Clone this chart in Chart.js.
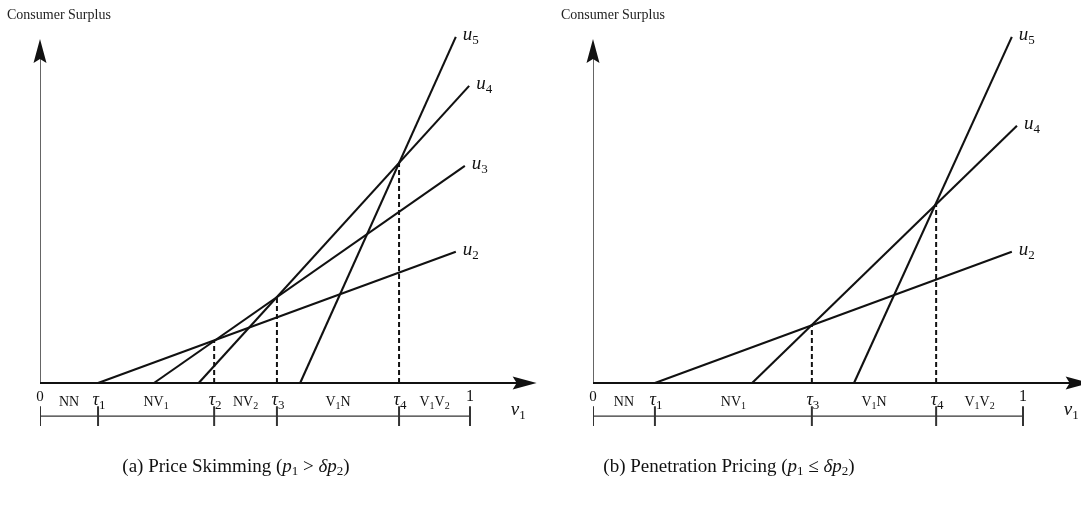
<!DOCTYPE html>
<html>
<head>
<meta charset="utf-8">
<script src="https://cdn.jsdelivr.net/npm/chart.js@4"></script>
<style>
  html, body { margin: 0; padding: 0; width: 1081px; height: 507px; overflow: hidden; background: #fff; }
  .panel { position: absolute; top: 0; }
  .ylabel { position: absolute; top: 6px; font: 14px "Liberation Serif", serif; line-height: 18px; color: #222; white-space: nowrap; }
  .caption { position: absolute; top: 454px; font: 19px "Liberation Serif", serif; line-height: 24px; color: #111; white-space: nowrap; transform: translateX(-50%); }
  .caption i { font-family: "Liberation Serif", serif; }
  .caption sub { font-size: 13px; font-style: normal; vertical-align: -3px; line-height: 0; }
</style>
</head>
<body>
<div class="panel" style="left:0px;width:540px;height:507px"><canvas id="chartA" width="540" height="507"></canvas></div>
<div class="panel" style="left:540px;width:560px;height:507px"><canvas id="chartB" width="560" height="507"></canvas></div>
<div class="ylabel" style="left:7px">Consumer Surplus</div>
<div class="ylabel" style="left:561px">Consumer Surplus</div>
<div class="caption" style="left:236px">(a) Price Skimming (<i>p</i><sub>1</sub> &gt; <i>δp</i><sub>2</sub>)</div>
<div class="caption" style="left:729px">(b) Penetration Pricing (<i>p</i><sub>1</sub> ≤ <i>δp</i><sub>2</sub>)</div>
<script>
// panel (a): price skimming
const tausA = [0.135, 0.405, 0.551, 0.835];
const tauNamesA = ['τ_1', 'τ_2', 'τ_3', 'τ_4'];
const regionsA = ['NN', 'NV_1', 'NV_2', 'V_1N', 'V_1V_2'];
const curveNamesA = ['u_2', 'u_3', 'u_4', 'u_5'];
const curveStartA = [0.135, 0.265, 0.369, 0.605];
const curveEndXA = [0.967, 0.988, 0.998, 0.967];
const curveEndYA = [0.305, 0.505, 0.691, 0.805];
const cutXA = [0.405, 0.551, 0.835];
const cutYA = [0.100, 0.200, 0.512];

// panel (b): penetration pricing
const tausB = [0.144, 0.509, 0.798];
const tauNamesB = ['τ_1', 'τ_3', 'τ_4'];
const regionsB = ['NN', 'NV_1', 'V_1N', 'V_1V_2'];
const curveNamesB = ['u_2', 'u_4', 'u_5'];
const curveStartB = [0.144, 0.370, 0.607];
const curveEndXB = [0.974, 0.986, 0.974];
const curveEndYB = [0.305, 0.598, 0.805];
const cutXB = [0.509, 0.798];
const cutYB = [0.137, 0.416];

// shared geometry (value units, both axes use the same pixel scale)
const UNIT = 430;
const ORIGIN_Y = 383;
const X_MAX = 1.16, Y_MIN = -0.12, Y_MAX = 0.83;
const X_TIP = 1.155, Y_TIP = 0.80;
const BAR_Y = -0.077, TICK_TOP = -0.054, TICK_BOT = -0.10;
const INK = '#111';

function seg(x0, y0, x1, y1, extra) {
  return Object.assign({
    data: [{x: x0, y: y0}, {x: x1, y: y1}],
    showLine: true,
    borderColor: INK,
    borderWidth: 2,
    pointRadius: 0,
    fill: false
  }, extra || {});
}

// text with "_c" subscripts
function drawRich(ctx, text, x, y, size, italic, align) {
  const parts = [];
  for (let i = 0; i < text.length; i++) {
    if (text[i] === '_' && i + 1 < text.length) {
      parts.push({t: text[i + 1], sub: true});
      i++;
    } else {
      parts.push({t: text[i], sub: false});
    }
  }
  const baseFont = (italic ? 'italic ' : '') + size + 'px "Liberation Serif", serif';
  const subFont = Math.round(size * 0.7) + 'px "Liberation Serif", serif';
  let w = 0;
  parts.forEach(function(p) {
    ctx.font = p.sub ? subFont : baseFont;
    p.w = ctx.measureText(p.t).width;
    w += p.w;
  });
  let cx = align === 'center' ? x - w / 2 : x;
  ctx.textAlign = 'left';
  ctx.textBaseline = 'middle';
  ctx.fillStyle = INK;
  parts.forEach(function(p) {
    ctx.font = p.sub ? subFont : baseFont;
    ctx.fillText(p.t, cx, p.sub ? y + size * 0.3 : y);
    cx += p.w;
  });
}

function arrowHead(ctx, tx, ty, dx, dy) {
  const len = 24, half = 6.5, notch = 4;
  const px = -dy, py = dx;
  ctx.beginPath();
  ctx.moveTo(tx, ty);
  ctx.lineTo(tx - dx * len + px * half, ty - dy * len + py * half);
  ctx.lineTo(tx - dx * (len - notch), ty - dy * (len - notch));
  ctx.lineTo(tx - dx * len - px * half, ty - dy * len - py * half);
  ctx.closePath();
  ctx.fillStyle = INK;
  ctx.fill();
}

function buildChart(id, leftPad, canvasW, p) {
  const datasets = [];
  // axes
  datasets.push(seg(0, 0, X_TIP - 0.03, 0, {borderWidth: 1.8}));
  datasets.push(seg(0, 0, 0, Y_TIP - 0.03, {borderWidth: 1.3}));
  // region bar under the axis
  datasets.push(seg(0, BAR_Y, 1, BAR_Y, {borderWidth: 1.4, borderColor: '#333'}));
  [0].concat(p.taus, [1]).forEach(function(t) {
    datasets.push(seg(t, TICK_TOP, t, TICK_BOT, {borderWidth: 2, borderColor: '#333'}));
  });
  // dashed cut-offs
  p.cutX.forEach(function(x, i) {
    datasets.push(seg(x, 0, x, p.cutY[i], {borderDash: [5, 3], borderWidth: 2}));
  });
  // utility lines
  p.names.forEach(function(n, i) {
    datasets.push(seg(p.start[i], 0, p.endX[i], p.endY[i], {borderWidth: 2.1}));
  });

  const labels = {
    id: 'labels',
    afterDatasetsDraw: function(chart) {
      const ctx = chart.ctx;
      const xs = chart.scales.x, ys = chart.scales.y;
      const x0 = xs.getPixelForValue(0), y0 = ys.getPixelForValue(0);
      ctx.save();
      arrowHead(ctx, xs.getPixelForValue(X_TIP), y0, 1, 0);
      arrowHead(ctx, x0, ys.getPixelForValue(Y_TIP), 0, -1);

      drawRich(ctx, '0', x0, y0 + 14, 15, false, 'center');
      drawRich(ctx, '1', xs.getPixelForValue(1), y0 + 14, 16, false, 'center');
      p.taus.forEach(function(t, i) {
        drawRich(ctx, p.tauNames[i], xs.getPixelForValue(t) + 1, y0 + 17, 18, true, 'center');
      });
      const edges = [0].concat(p.taus, [1]);
      p.regions.forEach(function(r, i) {
        const mid = (xs.getPixelForValue(edges[i]) + xs.getPixelForValue(edges[i + 1])) / 2;
        drawRich(ctx, r, mid, y0 + 19, 14, false, 'center');
      });
      drawRich(ctx, 'v_1', xs.getPixelForValue(1.112), y0 + 27, 19, true, 'center');

      p.names.forEach(function(n, i) {
        drawRich(ctx, n, xs.getPixelForValue(p.endX[i]) + 7, ys.getPixelForValue(p.endY[i]) - 2, 19, true, 'left');
      });
      ctx.restore();
    }
  };

  const plotW = X_MAX * UNIT;
  return new Chart(document.getElementById(id), {
    type: 'scatter',
    data: {datasets: datasets},
    options: {
      responsive: false,
      animation: false,
      events: [],
      layout: {
        padding: {
          left: leftPad,
          right: canvasW - leftPad - plotW,
          top: ORIGIN_Y - Y_MAX * UNIT,
          bottom: 507 - (ORIGIN_Y - Y_MIN * UNIT)
        }
      },
      scales: {
        x: {type: 'linear', min: 0, max: X_MAX, display: false},
        y: {type: 'linear', min: Y_MIN, max: Y_MAX, display: false}
      },
      plugins: {legend: {display: false}, tooltip: {enabled: false}}
    },
    plugins: [labels]
  });
}

buildChart('chartA', 40, 540, {
  taus: tausA, tauNames: tauNamesA, regions: regionsA,
  names: curveNamesA, start: curveStartA, endX: curveEndXA, endY: curveEndYA,
  cutX: cutXA, cutY: cutYA
});
buildChart('chartB', 53, 560, {
  taus: tausB, tauNames: tauNamesB, regions: regionsB,
  names: curveNamesB, start: curveStartB, endX: curveEndXB, endY: curveEndYB,
  cutX: cutXB, cutY: cutYB
});
</script>
</body>
</html>
